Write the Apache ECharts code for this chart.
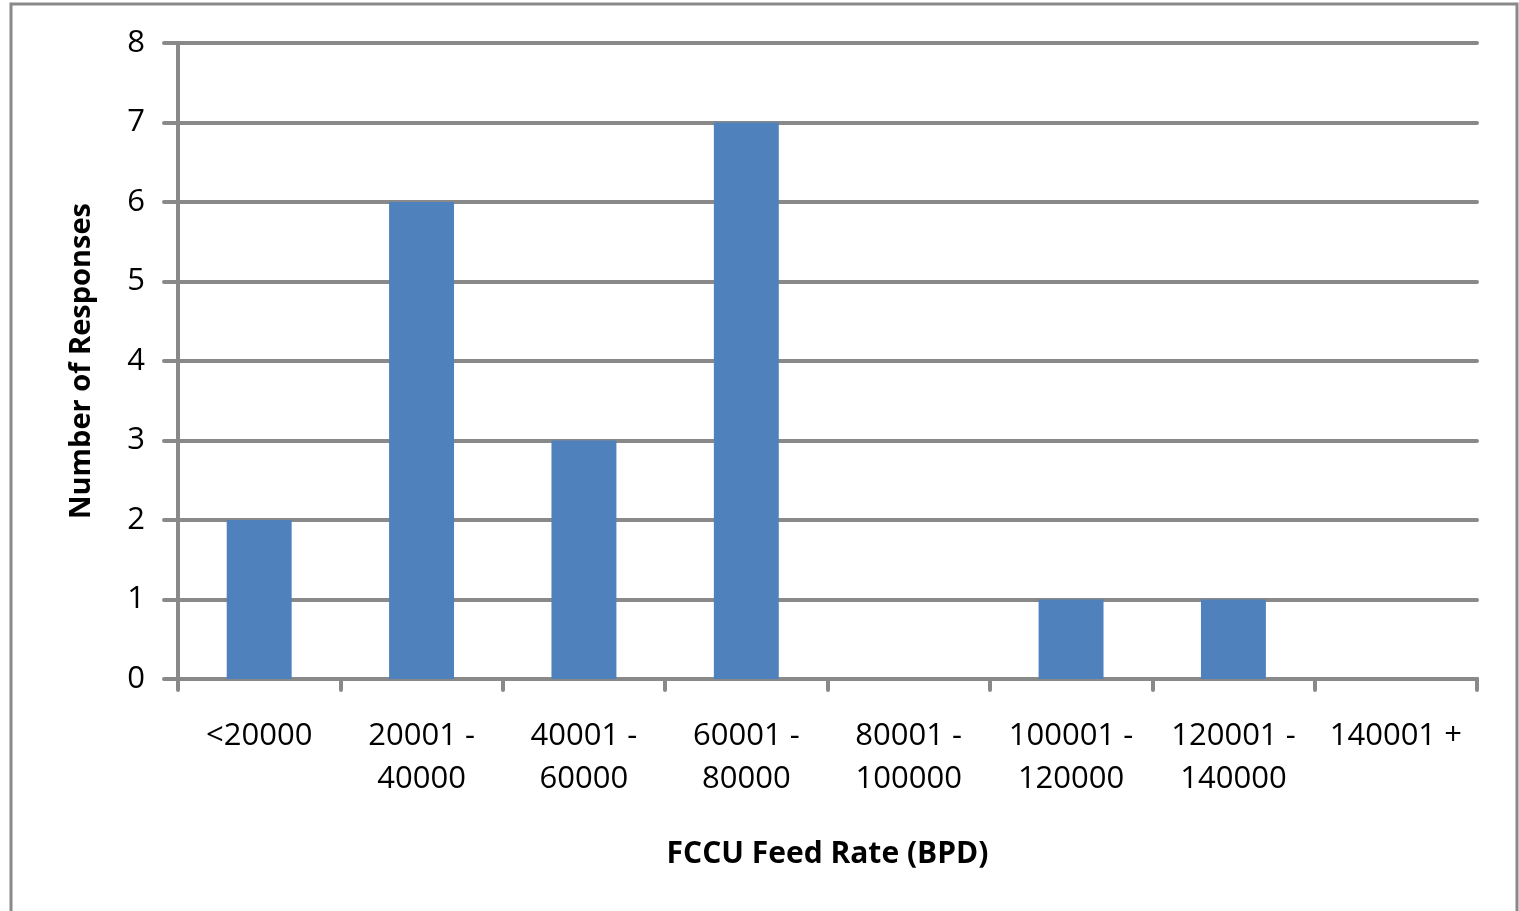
<!DOCTYPE html>
<html>
<head>
<meta charset="utf-8">
<script src="https://cdn.jsdelivr.net/npm/echarts@6/dist/echarts.min.js"></script>
<style>
  html, body { margin: 0; padding: 0; background: #fff; }
  #chart { width: 1519px; height: 911px; }
</style>
</head>
<body>
<div id="chart"></div>
<script>
// Feed-rate bands (BPD) and number of survey responses in each band
const categories = ['<20000', '20001 -\n40000', '40001 -\n60000', '60001 -\n80000', '80001 -\n100000', '100001 -\n120000', '120001 -\n140000', '140001 +'];
const responses = [2, 6, 3, 7, 0, 1, 1, 0];
const yTicks = [0, 1, 2, 3, 4, 5, 6, 7, 8];

const gridColor = '#898989';
const fontFamily = '"Open Sans", Lato, "Liberation Sans", sans-serif';

const chart = echarts.init(document.getElementById('chart'), null, { renderer: 'canvas' });
chart.setOption({
  animation: false,
  backgroundColor: '#ffffff',
  graphic: [{
    type: 'rect',
    shape: { x: 11, y: 4, width: 1506, height: 960 },
    style: { fill: 'none', stroke: gridColor, lineWidth: 3 },
    silent: true,
    z: -1
  }],
  grid: { left: 178, right: 42, top: 43, bottom: 232, containLabel: false },
  xAxis: {
    type: 'category',
    data: categories,
    boundaryGap: true,
    name: 'FCCU Feed Rate (BPD)',
    nameLocation: 'middle',
    nameGap: 160,
    nameTextStyle: { fontFamily, fontSize: 30, fontWeight: 'bold', color: '#000' },
    axisLine: { show: true, lineStyle: { color: gridColor, width: 4, cap: 'round' } },
    axisTick: { show: true, alignWithLabel: false, length: 11, lineStyle: { color: gridColor, width: 4, cap: 'round' } },
    axisLabel: { fontFamily, fontSize: 31, color: '#000', margin: 36, lineHeight: 43, interval: 0 }
  },
  yAxis: {
    type: 'value',
    min: yTicks[0],
    max: yTicks[yTicks.length - 1],
    interval: 1,
    name: 'Number of Responses',
    nameLocation: 'middle',
    nameGap: 82,
    nameTextStyle: { fontFamily, fontSize: 29, fontWeight: 'bold', color: '#000' },
    axisLine: { show: true, lineStyle: { color: gridColor, width: 4, cap: 'round' } },
    axisTick: { show: true, length: 14, lineStyle: { color: gridColor, width: 4, cap: 'round' } },
    splitLine: { show: true, lineStyle: { color: gridColor, width: 4, cap: 'round' } },
    axisLabel: { fontFamily, fontSize: 31, color: '#000', margin: 33 }
  },
  series: [{
    type: 'bar',
    data: responses,
    barWidth: '40%',
    itemStyle: { color: '#4F81BD' },
    z: 3
  }]
});
</script>
</body>
</html>
